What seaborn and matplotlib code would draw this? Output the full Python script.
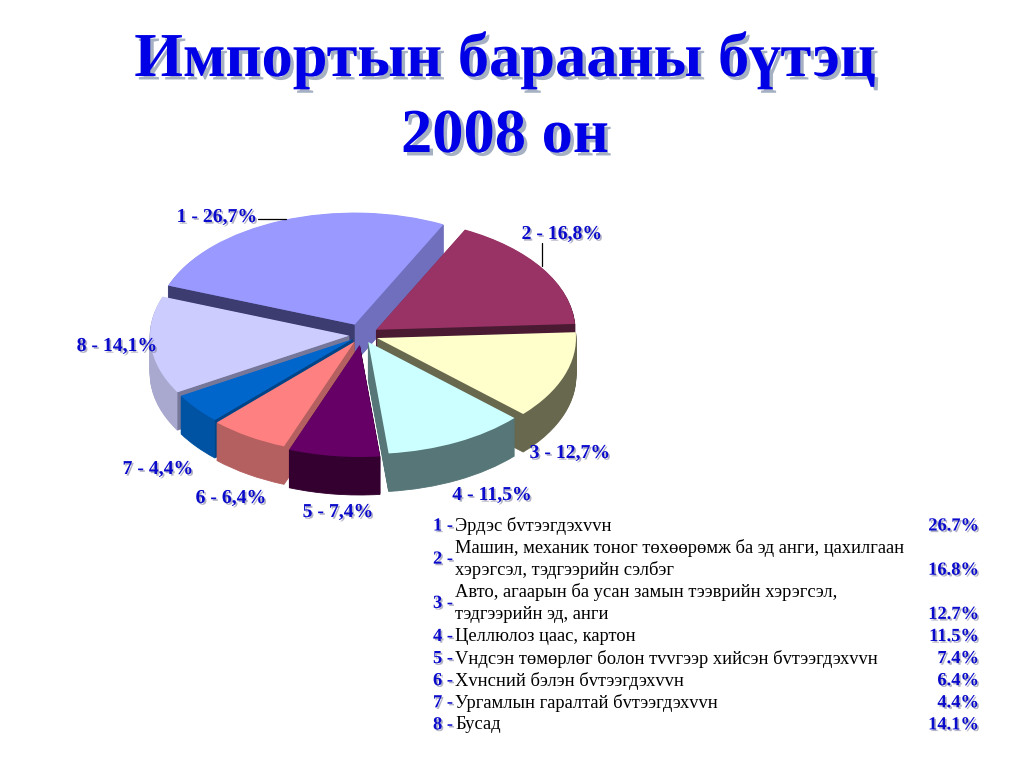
import matplotlib
matplotlib.use("Agg")
import matplotlib.pyplot as plt
import matplotlib.patheffects as pe
import numpy as np
import seaborn as sns

title_lines = ["Импортын барааны бүтэц", "2008 он"]
item_ids = [1, 2, 3, 4, 5, 6, 7, 8]
shares = [26.7, 16.8, 12.7, 11.5, 7.4, 6.4, 4.4, 14.1]
explode = [0.10, 0.085, 0.08, 0.07, 0.09, 0.07, 0.06, 0.065]
top_colors = ["#9999ff", "#993366", "#ffffcc", "#ccffff", "#660066", "#ff8080", "#0066cc", "#ccccff"]
wall_colors = ["#6f6fbd", "#4a1a33", "#68684f", "#567678", "#33002f", "#b56060", "#0052a3", "#a9a9cf"]
cut_colors = ["#3c3c70", "#4a1a33", "#68684f", "#567678", "#33002f", "#b56060", "#004488", "#77779a"]
# back-to-front order of the slices, back = 0
depth_rank = [0, 1, 2, 3, 4, 3, 2, 1]
item_names = [
    ["Эрдэс бvтээгдэхvvн"],
    ["Машин, механик тоног төхөөрөмж ба эд анги, цахилгаан", "хэрэгсэл, тэдгээрийн сэлбэг"],
    ["Авто, агаарын ба усан замын тээврийн хэрэгсэл,", "тэдгээрийн эд, анги"],
    ["Целлюлоз цаас, картон"],
    ["Vндсэн төмөрлөг болон тvvгээр хийсэн бvтээгдэхvvн"],
    ["Хvнсний бэлэн бvтээгдэхvvн"],
    ["Ургамлын гаралтай бvтээгдэхvvн"],
    ["Бусад"],
]
# label centres in pixels of the 1024x768 page
label_x = [217, 562, 570, 492, 338, 231, 158, 117]
label_y = [217, 234, 453, 495, 512, 498, 469, 346]

W, H = 1024, 768
CX, CY, RX, RY = 362, 335, 199, 112
DEPTH = 38
START = 159.6

sns.set_theme(style="white")
plt.rcParams["font.family"] = ["Liberation Serif", "DejaVu Sans"]
palette = sns.color_palette(top_colors)
wall_palette = sns.color_palette(wall_colors)

fig = plt.figure(figsize=(W / 100, H / 100), dpi=100, facecolor="white")
page = fig.add_axes([0, 0, 1, 1], zorder=3)
page.set_xlim(0, W)
page.set_ylim(H, 0)
page.axis("off")

# pie axes squashed so the circle becomes the ellipse of the top face
LIM = 1.25
pie_ax = fig.add_axes([(CX - LIM * RX) / W, 1 - (CY + LIM * RY) / H, 2 * LIM * RX / W, 2 * LIM * RY / H])
pie_ax.patch.set_alpha(0)
dz = DEPTH / RY

# walls: same pie stacked from the bottom up
for k in range(DEPTH, 0, -1):
    layer, _ = pie_ax.pie(shares, explode=explode, colors=wall_palette, startangle=START, counterclock=False,
                          center=(0, -k * dz / DEPTH), wedgeprops={"linewidth": 0.6})
    for i, w in enumerate(layer):
        w.set_edgecolor(w.get_facecolor())
        w.set_zorder(0.1 + depth_rank[i] * 0.1)

# top faces, plus the cut faces taken from the wedge geometry
tops, _ = pie_ax.pie(shares, explode=explode, colors=palette, startangle=START, counterclock=False,
                     wedgeprops={"linewidth": 0})
for i, w in enumerate(tops):
    w.set_zorder(2)
    if cut_colors[i] != wall_colors[i]:
        theta = np.deg2rad(w.theta2)
        cx, cy = w.center
        rim = (cx + w.r * np.cos(theta), cy + w.r * np.sin(theta))
        pie_ax.fill([cx, rim[0], rim[0], cx], [cy, rim[1], rim[1] - dz, cy - dz],
                    color=cut_colors[i], lw=0, zorder=0.15 + depth_rank[i] * 0.1)

pie_ax.set_aspect("auto")
pie_ax.set_xlim(-LIM, LIM)
pie_ax.set_ylim(-LIM, LIM)

blue_shadow = [pe.withSimplePatchShadow(offset=(1.2, -1.2), shadow_rgbFace="#8080a0", alpha=0.6)]
big_shadow = [pe.withSimplePatchShadow(offset=(2.5, -2.5), shadow_rgbFace="#7f8fa8", alpha=0.7)]

for line, y in zip(title_lines, [76, 152]):
    page.text(505, y, line, ha="center", va="baseline", color="#0000e6", fontsize=45,
              fontweight="bold", path_effects=big_shadow)

for i, share in enumerate(shares):
    label = f"{item_ids[i]} - {share:.1f}%".replace(".", ",")
    page.text(label_x[i], label_y[i], label, ha="center", va="center", color="#0a0acc", fontsize=14.2,
              fontweight="bold", path_effects=blue_shadow)

# leader lines
page.plot([258, 286], [219, 219], color="black", lw=0.9)
page.plot([542, 542], [243, 266], color="black", lw=0.9)

# table under the pie
row_y = 526
ROW = 22.1
for i, names in enumerate(item_names):
    n = len(names)
    mid = row_y + (n - 1) * ROW / 2
    page.text(433, mid, f"{item_ids[i]} -", ha="left", va="center", color="#0a0acc",
              fontsize=13.3, fontweight="bold", path_effects=blue_shadow)
    for j, name in enumerate(names):
        page.text(455, row_y + j * ROW, name, ha="left", va="center", color="black", fontsize=13.3)
    page.text(979, row_y + (n - 1) * ROW, f"{shares[i]:.1f}%", ha="right", va="center", color="#0a0acc",
              fontsize=13.3, fontweight="bold", path_effects=blue_shadow)
    row_y += n * ROW

fig.savefig("out.png", dpi=100, facecolor="white")
